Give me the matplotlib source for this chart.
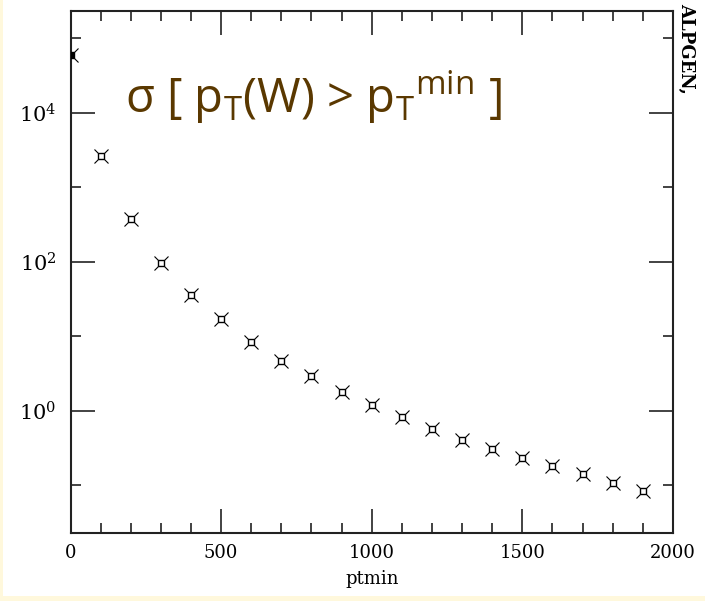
import matplotlib.pyplot as plt
from matplotlib.ticker import FixedLocator, NullFormatter

# cross section sigma(pT(W) > ptmin)
ptmin = [0, 100, 200, 300, 400, 500, 600, 700, 800, 900, 1000,
         1100, 1200, 1300, 1400, 1500, 1600, 1700, 1800, 1900]
sigma = [6.0e4, 2.6e3, 375, 95, 36, 17, 8.5, 4.7, 2.9, 1.8, 1.2,
         0.83, 0.57, 0.41, 0.31, 0.23, 0.18, 0.14, 0.107, 0.083]

y_major = [1, 1e2, 1e4]
y_minor = [1e-1, 1e1, 1e3, 1e5]
y_labels = [r'$\mathregular{10^0}$', r'$\mathregular{10^2}$', r'$\mathregular{10^4}$']

plt.rcParams['mathtext.fontset'] = 'custom'
plt.rcParams['mathtext.rm'] = 'Open Sans'
plt.rcParams['mathtext.it'] = 'Open Sans'

fig = plt.figure(figsize=(7.05, 6.01), dpi=100, facecolor='#fff8dc')
# white page with a thin yellow border on left and bottom
fig.patches.append(plt.Rectangle((3 / 705, 5 / 601), 1, 1, transform=fig.transFigure,
                                 facecolor='white', edgecolor='none', zorder=-5))

ax = fig.add_axes([0.1, 0.1131, 0.8546, 0.868])
ax.set_yscale('log')
ax.set_xlim(0, 2000)
ax.set_ylim(10 ** -1.64, 10 ** 5.36)

# crosses with a small square in the middle
ax.plot(ptmin, sigma, linestyle='none', marker='x', markersize=10,
        markeredgewidth=0.8, color='black', zorder=3)
ax.plot(ptmin[1:], sigma[1:], linestyle='none', marker='s', markersize=5,
        markerfacecolor='white', markeredgecolor='black', markeredgewidth=1.0, zorder=4)
ax.plot(ptmin[:1], sigma[:1], linestyle='none', marker='s', markersize=5,
        color='black', zorder=4)

ax.xaxis.set_major_locator(FixedLocator([0, 500, 1000, 1500, 2000]))
ax.xaxis.set_minor_locator(FixedLocator(range(0, 2001, 100)))
ax.yaxis.set_major_locator(FixedLocator(y_major))
ax.yaxis.set_minor_locator(FixedLocator(y_minor))
ax.set_yticklabels(y_labels)
ax.yaxis.set_minor_formatter(NullFormatter())

ax.tick_params(which='both', direction='in', top=True, right=True, width=1.2, color='#222222')
ax.tick_params(which='major', length=17, labelsize=13, pad=8)
ax.tick_params(axis='y', which='major', labelsize=15, pad=10)
ax.tick_params(which='minor', length=7)
for lab in ax.get_xticklabels() + ax.get_yticklabels():
    lab.set_family('DejaVu Serif')
    lab.set_math_fontfamily('dejavuserif')
for s in ax.spines.values():
    s.set_linewidth(1.5)
    s.set_color('#222222')

ax.set_xlabel('ptmin', family='DejaVu Serif', fontsize=13, labelpad=6)

fig.text(0.177, 0.812, r'σ [ p$_\mathrm{T}$(W) > p$_\mathrm{T}{}^\mathrm{min}$ ]',
         family='Open Sans', fontsize=34, color='#5a3800', va='baseline')
fig.text(0.973, 0.995, 'ALPGEN,', family='DejaVu Serif', fontweight='bold',
         fontsize=13, rotation=-90, va='top', ha='center')

fig.savefig('out.png', dpi=100, facecolor=fig.get_facecolor())
